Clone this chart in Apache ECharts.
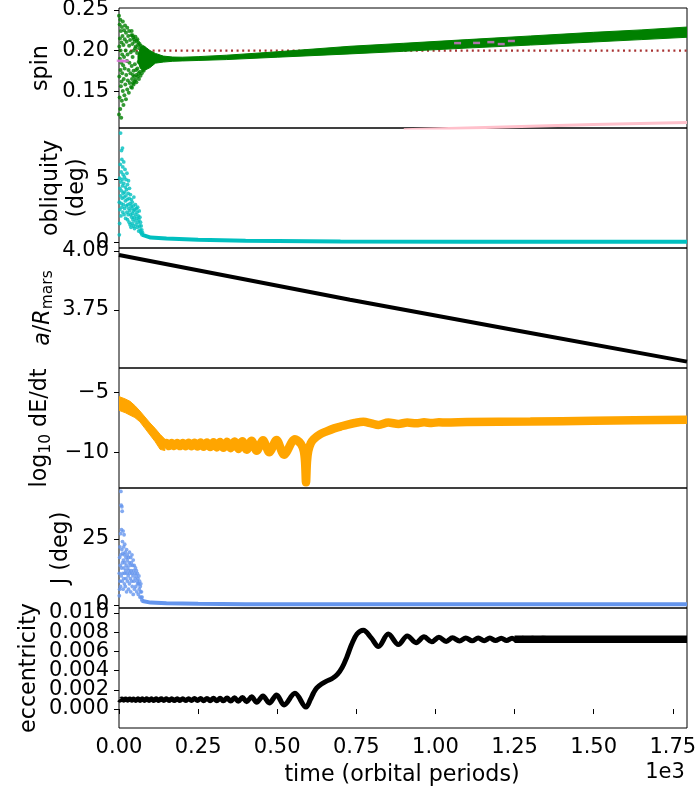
<!DOCTYPE html>
<html><head><meta charset="utf-8">
<script src="https://cdn.jsdelivr.net/npm/echarts@6/dist/echarts.min.js"></script>
<style>html,body{margin:0;padding:0;background:#fff}#c{width:700px;height:800px}</style>
</head><body><div id="c"></div>
<script>
const FONT = '"DejaVu Sans", sans-serif';
const xLimits = [0, 1795];
const xTickValues = [0, 250, 500, 750, 1000, 1250, 1500, 1750];

// ---- panel 1: spin ----
const spinLim = [0.1045, 0.2525];
const spinTicks = [0.15, 0.20, 0.25];
const spinScatter = [[0,0.121],[0,0.243],[1,0.205],[1,0.168],[2,0.232],[2,0.142],[3,0.19],[3,0.215],[4,0.128],[4,0.238],[5,0.176],[5,0.2],[6,0.156],[6,0.224],[7,0.185],[7,0.117],[8,0.21],[8,0.162],[9,0.229],[9,0.138],[10,0.195],[10,0.172],[11,0.218],[12,0.15],[12,0.236],[13,0.182],[14,0.207],[14,0.133],[15,0.165],[16,0.225],[16,0.192],[17,0.145],[18,0.214],[18,0.178],[19,0.231],[20,0.158],[21,0.2],[22,0.14],[22,0.222],[23,0.17],[24,0.211],[25,0.187],[26,0.152],[26,0.228],[27,0.195],[28,0.163],[29,0.218],[30,0.176],[31,0.148],[32,0.206],[32,0.224],[33,0.185],[34,0.16],[35,0.213],[36,0.172],[37,0.198],[38,0.155],[39,0.219],[40,0.181],[40,0.224],[41,0.165],[41,0.154],[42,0.208],[43,0.192],[43,0.219],[44,0.16],[44,0.17],[45,0.216],[46,0.175],[46,0.158],[47,0.2],[47,0.214],[48,0.168],[49,0.211],[49,0.162],[50,0.183],[51,0.203],[52,0.164],[52,0.217],[53,0.205],[54,0.176],[55,0.17],[55,0.161],[56,0.212],[57,0.197],[58,0.178],[58,0.214],[59,0.168],[60,0.207],[61,0.21],[62,0.172],[62,0.186],[63,0.165],[64,0.203],[65,0.208],[66,0.174],[67,0.196],[68,0.169],[69,0.206],[71,0.18],[72,0.172],[73,0.204],[75,0.176],[76,0.2],[78,0.175],[79,0.203],[82,0.178],[84,0.201]];
const spinBandT    = [60, 68, 78, 88, 98, 115, 140, 170, 200, 250, 340, 500, 730, 900, 1100, 1300, 1500, 1650, 1795];
const spinBandLow  = [0.186,0.178,0.176,0.177,0.179,0.1845,0.1858,0.1868,0.1872,0.1878,0.1889,0.1918,0.1959,0.1991,0.2031,0.2068,0.2106,0.2135,0.2164];
const spinBandHigh = [0.194,0.204,0.206,0.203,0.2,0.1965,0.1932,0.1920,0.1918,0.1925,0.1943,0.1985,0.2053,0.2090,0.2135,0.2180,0.2225,0.2255,0.2290];
const spinRefT = [0, 1795];
const spinRefV = [0.2, 0.2];
const pinkT = [900, 1100, 1300, 1500, 1795];
const pinkV = [0.1022, 0.1045, 0.1068, 0.1088, 0.1112];
const orchidPts = [[4,0.1875],[12,0.1868],[20,0.1872],[1070,0.2092],[1130,0.2094],[1175,0.2104],[1208,0.2080],[1240,0.2118]];

// ---- panel 2: obliquity ----
const obliqLim = [-0.45, 9.1];
const obliqTicks = [0, 5];
const obliqScatter = [[1,0.6],[1,3.2],[2,1.5],[2,5.1],[3,4.3],[3,2.6],[4,6.2],[5,8.7],[5,3.7],[6,4.8],[6,2.1],[7,5.6],[7,3.1],[8,7.3],[8,4.1],[9,2.8],[9,6.6],[10,5.0],[10,3.5],[11,7.5],[11,4.5],[12,2.4],[12,6.0],[13,3.9],[13,5.4],[14,3.0],[15,4.7],[15,6.4],[16,2.2],[16,3.6],[17,5.2],[18,4.0],[18,2.7],[19,5.8],[20,3.3],[20,4.4],[21,1.9],[22,5.0],[22,3.7],[23,2.9],[24,4.2],[25,5.5],[25,2.4],[26,3.4],[27,1.8],[27,4.6],[28,3.0],[29,2.2],[29,3.9],[30,4.9],[31,2.7],[32,3.5],[32,1.6],[33,4.3],[34,2.5],[35,3.1],[35,1.4],[36,3.8],[37,2.2],[38,2.9],[38,1.2],[39,3.4],[40,2.0],[41,2.7],[42,1.5],[42,3.2],[43,2.3],[44,1.8],[45,2.9],[46,1.3],[46,2.5],[47,3.6],[48,2.0],[49,1.1],[50,2.6],[51,1.7],[52,3.0],[53,2.2],[54,1.4],[55,2.7],[56,1.9],[57,2.4],[58,1.2],[59,2.8],[60,1.6],[61,2.1],[62,0.9],[63,1.8],[64,2.5],[65,1.3],[66,2.0],[67,1.0],[68,1.6],[69,0.8],[70,1.3],[71,0.7],[72,1.0],[73,0.6],[74,0.8]];
const obliqLineT = [74, 80, 100, 150, 250, 400, 700, 1100, 1795];
const obliqLineV = [0.6, 0.45, 0.38, 0.3, 0.2, 0.12, 0.07, 0.05, 0.04];

// ---- panel 3: a/R_mars ----
const aLim = [3.504, 4.0127];
const aTicks = [3.75, 4.00];
const aT = [0, 730, 1257, 1795];
const aV = [3.983, 3.793, 3.663, 3.531];

// ---- panel 4: log10 dE/dt ----
const logLim = [-12.97, -2.97];
const logTicks = [-10, -5];
const logBandT    = [0, 20, 35, 50, 66, 82, 98, 114, 130, 145];
const logBandLow  = [-6.5, -6.7, -6.9, -7.1, -7.45, -8.0, -8.55, -9.1, -9.75, -9.85];
const logBandHigh = [-5.35, -5.55, -5.75, -6.1, -6.55, -7.05, -7.55, -8.0, -8.5, -8.9];
const logT = [140,150,158,166.5,175,184,192.5,201.5,210.5,220,229,238.5,248,258,267.5,278,288,298.5,309,319.5,330,341.5,353,365,377,390,403.5,419,435,455,475,498,521.5,556,575,584,588,591,594,598,606,615,635,656,680,700,720,745,772,797,820,851,883,911,939,964,988,1011,1034,1100,1300,1500,1795];
const logV = [-9.3,-9.22,-9.48,-9.22,-9.48,-9.22,-9.48,-9.21,-9.49,-9.2,-9.5,-9.19,-9.52,-9.18,-9.54,-9.17,-9.56,-9.15,-9.59,-9.13,-9.62,-9.11,-9.66,-9.09,-9.71,-9.07,-9.78,-9.04,-9.86,-9.0,-10.0,-8.96,-10.2,-8.9,-9.3,-9.9,-10.8,-12.5,-10.8,-9.9,-9.25,-8.9,-8.5,-8.25,-8.0,-7.85,-7.7,-7.55,-7.45,-7.58,-7.72,-7.52,-7.63,-7.52,-7.58,-7.5,-7.55,-7.49,-7.52,-7.48,-7.43,-7.37,-7.28];

// ---- panel 5: J ----
const jLim = [-1.14, 44.3];
const jTicks = [0, 25];
const jScatter = [[1,3.5],[1,12],[2,6],[2,18],[3,9],[3,22],[4,15],[5,27],[5,7],[6,43],[6,19],[7,37.8],[7,11],[8,28.5],[8,14],[9,37.2],[9,21],[10,35.5],[10,9],[11,16],[11,24],[12,12],[12,19.5],[13,28],[13,6],[14,17],[15,22],[15,10],[16,26.6],[16,14],[17,8],[17,19],[18,23],[18,12],[19,16],[20,20],[20,7],[21,13],[22,18],[22,10],[23,15],[24,21],[24,5],[25,12],[26,17],[27,9],[27,19],[28,14],[29,11],[30,18],[30,6],[31,13],[32,16],[33,8],[33,20],[34,12],[35,15],[36,10],[37,18],[37,5],[38,13],[39,16],[40,9],[41,19],[41,12],[42,7],[43,15],[44,11],[45,17],[45,4],[46,13],[47,9],[48,15],[49,6],[50,12],[51,10],[52,14],[53,7],[54,11],[55,13],[56,5],[57,9],[58,12],[59,8],[60,10],[61,4],[62,8],[63,11],[64,6],[65,9],[66,3],[67,7],[68,5],[69,8],[70,3],[71,5],[72,2],[73,3],[74,1.5]];
const jLineT = [74, 80, 100, 150, 250, 400, 1795];
const jLineV = [1.5, 1.2, 0.9, 0.7, 0.45, 0.3, 0.25];

// ---- panel 6: eccentricity ----
const eccLim = [-0.00197, 0.0105];
const eccTicksA = [0, 0.004, 0.008];
const eccTicksB = [0.002, 0.006, 0.010];
const eccT = [0,3,9,15,21,27.5,34,40,46.5,53,60,66.5,73.5,80.5,88,95,102.5,110,118,125.5,133.5,141.5,150,158,166.5,175,184,192.5,201.5,210.5,220,229,238.5,248,258,267.5,278,288,298.5,309,319.5,330,341.5,353,365,377,390,403.5,419,435,455,475,498,521.5,556,591,605,615,625,640,656,675,690,705,720,735,752,772,797,820,851,883,911,939,964,988,1011,1034,1054,1076,1096,1116,1135,1154,1172,1190,1208,1225,1242,1259,1275,1291,1307,1323,1339,1400,1795];
const eccV = [0.00098,0.00091,0.00105,0.00091,0.00105,0.00091,0.00105,0.00091,0.00105,0.0009,0.00106,0.0009,0.00106,0.0009,0.00106,0.0009,0.00106,0.0009,0.00106,0.0009,0.00106,0.0009,0.00107,0.00089,0.00107,0.00089,0.00107,0.00089,0.00108,0.00088,0.00108,0.00088,0.00109,0.00088,0.00109,0.00087,0.0011,0.00087,0.00111,0.00086,0.00112,0.00085,0.00114,0.00083,0.00117,0.0008,0.0012,0.00076,0.00127,0.0007,0.00135,0.00063,0.00146,0.00043,0.00163,0.0002,0.001,0.0017,0.0022,0.0026,0.0029,0.0032,0.0036,0.0043,0.0054,0.0067,0.0078,0.0082,0.0074,0.0065,0.0078,0.0067,0.0076,0.0069,0.0075,0.00698,0.00745,0.00703,0.0074,0.00708,0.00739,0.00709,0.00738,0.0071,0.00737,0.00711,0.00736,0.00712,0.00736,0.00712,0.00735,0.00713,0.00735,0.00713,0.00735,0.00724,0.00724];
const eccBandT = [1250, 1795];
const eccBandV = [0.00724, 0.00724];

// ---------------- build ----------------
const TOPS = [8, 128, 248, 368, 488, 608];
const H = 120;
const TICK_FS = 21, LABEL_FS = 22.2, SUB_FS = 15.5;
const zip = (a, b) => a.map((t, i) => [t, b[i]]);

const grids = TOPS.map(t => ({left: 119, right: 13, top: t, height: H, show: true,
  borderColor: '#000', borderWidth: 1, backgroundColor: 'transparent', containLabel: false, outerBoundsMode: 'none'}));

const labelStyle = {fontSize: TICK_FS, fontFamily: FONT, color: '#000', showMinLabel: true, showMaxLabel: true, hideOverlap: false, interval: 0};

const xAxes = TOPS.map((t, i) => {
  const last = i === TOPS.length - 1;
  return {type: 'value', gridIndex: i, min: xLimits[0], max: xLimits[1],
    axisLine: {show: false}, splitLine: {show: false},
    axisTick: {show: last, customValues: xTickValues, interval: 0, length: 5, inside: false, lineStyle: {color: '#000', width: 1}},
    axisLabel: Object.assign({show: last, customValues: xTickValues, margin: 9,
      formatter: v => (v / 1000).toFixed(2)}, labelStyle)};
});

function yAx(gi, lim, ticks, fmt) {
  return {type: 'value', gridIndex: gi, min: lim[0], max: lim[1], scale: true, position: 'left', offset: 0,
    axisLine: {show: false}, splitLine: {show: false},
    axisTick: {show: true, customValues: ticks, interval: 0, length: 5, inside: false, lineStyle: {color: '#000', width: 1}},
    axisLabel: Object.assign({customValues: ticks, margin: 10, formatter: fmt}, labelStyle)};
}
const eccFmt = v => v.toFixed(3);
const yAxes = [
  yAx(0, spinLim, spinTicks, v => v.toFixed(2)),
  yAx(1, obliqLim, obliqTicks, v => String(Math.round(v))),
  yAx(2, aLim, aTicks, v => v.toFixed(2)),
  yAx(3, logLim, logTicks, v => (v < 0 ? '\u2212' + Math.abs(Math.round(v)) : String(Math.round(v)))),
  yAx(4, jLim, jTicks, v => String(Math.round(v))),
  yAx(5, eccLim, eccTicksA, eccFmt),
  yAx(5, eccLim, eccTicksB, eccFmt)
];

function bandSeries(gi, ts, lo, hi, color, z) {
  return {type: 'custom', xAxisIndex: gi, yAxisIndex: gi, z: z, silent: true, clip: true,
    data: ts.map((t, i) => [t, lo[i], hi[i]]),
    encode: {x: 0, y: [1, 2]},
    renderItem: (params, api) => {
      if (params.dataIndex !== 0) return null;
      const pts = [];
      for (let i = 0; i < ts.length; i++) pts.push(api.coord([ts[i], hi[i]]));
      for (let i = ts.length - 1; i >= 0; i--) pts.push(api.coord([ts[i], lo[i]]));
      return {type: 'polygon', shape: {points: pts}, style: {fill: color, stroke: color, lineWidth: 1}};
    }};
}
function lineSeries(gi, data, color, width, extra) {
  return Object.assign({type: 'line', xAxisIndex: gi, yAxisIndex: gi, data: data, symbol: 'none',
    lineStyle: {color: color, width: width}, itemStyle: {color: color}, clip: true, silent: true,
    animation: false}, extra || {});
}
function scatterSeries(gi, data, color, size, extra) {
  return Object.assign({type: 'scatter', xAxisIndex: gi, yAxisIndex: gi, data: data, symbolSize: size,
    itemStyle: {color: color, borderWidth: 0}, silent: true, clip: true}, extra || {});
}

const GREEN = '#008000', CYAN = '#00bfbf', ORANGE = '#ffa500', BLUE = '#6495ed';
const series = [
  lineSeries(0, zip(spinRefT, spinRefV), '#a83232', 2.2, {z: 1, lineStyle: {color: '#a83232', width: 2.2, type: [2, 3.6]}}),
  scatterSeries(0, spinScatter, GREEN, 4, {z: 2}),
  bandSeries(0, spinBandT, spinBandLow, spinBandHigh, GREEN, 2),
  lineSeries(0, zip(pinkT, pinkV), '#ffc0cb', 3, {z: 2}),
  scatterSeries(0, orchidPts, '#da70d6', [7, 2.5], {symbol: 'rect', z: 3}),

  scatterSeries(1, obliqScatter, CYAN, 3.8),
  lineSeries(1, zip(obliqLineT, obliqLineV), CYAN, 4),

  lineSeries(2, zip(aT, aV), '#000', 4),

  bandSeries(3, logBandT, logBandLow, logBandHigh, ORANGE, 2),
  lineSeries(3, zip(logT, logV), ORANGE, 8.5, {smooth: 0.3}),

  scatterSeries(4, jScatter, BLUE, 3.8),
  lineSeries(4, zip(jLineT, jLineV), BLUE, 4),

  lineSeries(5, zip(eccT, eccV), '#000', 5, {smooth: 0.35}),
  lineSeries(5, zip(eccBandT, eccBandV), '#000', 7.5)
];

const tstyle = (text, fs, extra) => Object.assign({text: text, font: fs + 'px ' + FONT, fill: '#000',
  align: 'center', verticalAlign: 'middle', textAlign: 'center', textVerticalAlign: 'middle'}, extra || {});
const R = Math.PI / 2; // rotate 90deg counter-clockwise
const richMain = {fontSize: LABEL_FS, fontFamily: FONT, lineHeight: 26, verticalAlign: 'middle'};
const richSub = {fontSize: SUB_FS, fontFamily: FONT, lineHeight: 16, verticalAlign: 'bottom'};
const graphic = [
  {type: 'text', x: 41.5, y: 68, rotation: R, style: tstyle('spin', LABEL_FS)},
  {type: 'text', x: 64.5, y: 188, rotation: R, style: tstyle('obliquity\n(deg)', LABEL_FS, {lineHeight: 26})},
  {type: 'text', x: 43, y: 308, rotation: R, style: tstyle('{i|a}{n|/}{i|R}{s|mars}', LABEL_FS, {
    rich: {i: Object.assign({}, richMain, {fontStyle: 'italic'}), n: richMain, s: richSub}})},
  {type: 'text', x: 40.5, y: 428, rotation: R, style: tstyle('{n|log}{s|10}{n| dE/dt}', LABEL_FS, {
    rich: {n: richMain, s: richSub}})},
  {type: 'text', x: 61.5, y: 548, rotation: R, style: tstyle('J (deg)', LABEL_FS)},
  {type: 'text', x: 29, y: 668, rotation: R, style: tstyle('eccentricity', LABEL_FS)},
  {type: 'text', x: 402, y: 775, style: tstyle('time (orbital periods)', LABEL_FS)},
  {type: 'text', x: 665, y: 773, style: tstyle('1e3', TICK_FS)}
];

const chart = echarts.init(document.getElementById('c'), null, {renderer: 'canvas'});
chart.setOption({animation: false, backgroundColor: '#fff', grid: grids, xAxis: xAxes, yAxis: yAxes,
  series: series, graphic: graphic});
</script></body></html>
